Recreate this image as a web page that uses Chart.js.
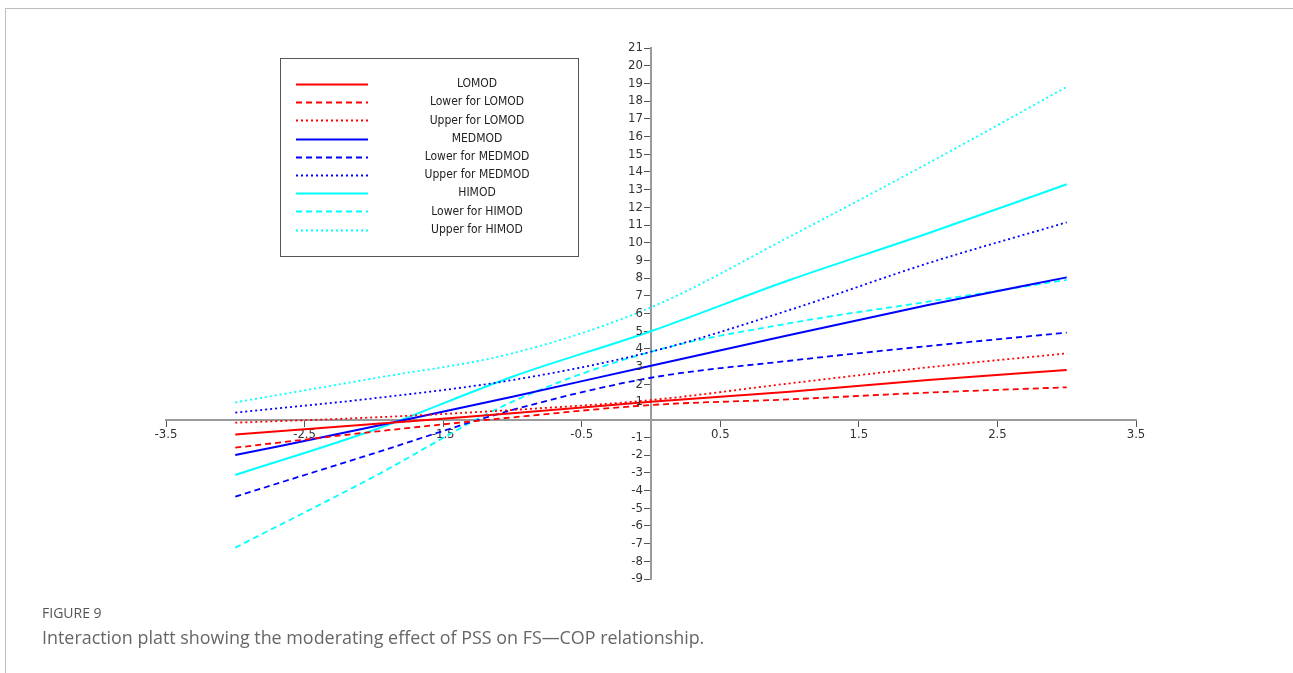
<!DOCTYPE html>
<html>
<head>
<meta charset="utf-8">
<script src="https://cdn.jsdelivr.net/npm/chart.js@4.4.1/dist/chart.umd.min.js"></script>
<style>
  html, body { margin: 0; padding: 0; background: #fff; }
  #wrap { position: relative; width: 1293px; height: 673px; overflow: hidden; }
  #frame { position: absolute; left: 5px; top: 8px; right: -2px; bottom: -2px;
           border-top: 1px solid #bdbdbd; border-left: 1px solid #bdbdbd; }
  #chart { position: absolute; left: 0; top: 0; }
  .cap1 { position: absolute; left: 42px; top: 603px; font: 14px "Open Sans", sans-serif; color: #555; }
  .cap2 { position: absolute; left: 42px; top: 625px; font: 17.9px "Open Sans", sans-serif; color: #666; }
</style>
</head>
<body>
<div id="wrap">
  <div id="frame"></div>
  <canvas id="chart" width="1293" height="673"></canvas>
  <div class="cap1">FIGURE 9</div>
  <div class="cap2">Interaction platt showing the moderating effect of PSS on FS—COP relationship.</div>
</div>
<script>
// x positions of the plotted points
const xValues = [-3, -2, -1, 0, 1, 2, 3];

const loMod      = [-0.83, -0.24, 0.36, 1.02, 1.58, 2.24, 2.81];
const loModLower = [-1.58, -0.68, 0.13, 0.83, 1.15, 1.53, 1.83];
const loModUpper = [-0.17, 0.13, 0.55, 1.11, 2.05, 2.96, 3.75];

const medMod      = [-2.0, -0.39, 1.30, 3.05, 4.78, 6.48, 8.04];
const medModLower = [-4.35, -1.9, 0.55, 2.37, 3.33, 4.16, 4.92];
const medModUpper = [0.40, 1.21, 2.24, 3.84, 6.2, 8.84, 11.15];

const hiMod      = [-3.12, -0.58, 2.43, 5.0, 7.89, 10.53, 13.3];
const hiModLower = [-7.23, -3.22, 1.02, 3.84, 5.45, 6.67, 7.9];
const hiModUpper = [0.98, 2.34, 3.75, 6.35, 10.34, 14.49, 18.8];

const xTicks = [-3.5, -2.5, -1.5, -0.5, 0.5, 1.5, 2.5, 3.5];
const yTicks = [-9, -8, -7, -6, -5, -4, -3, -2, -1, 1, 2, 3, 4, 5, 6, 7, 8, 9, 10,
                11, 12, 13, 14, 15, 16, 17, 18, 19, 20, 21];

const DASH = [6, 4];
const DOT = [2, 3];
const fontFamily = "'Liberation Sans Narrow', 'DejaVu Sans Condensed', 'Liberation Sans', Arial";
const axisFont = { family: fontFamily, size: 13 };

function series(label, values, color, dash) {
  return {
    label,
    data: values.map((v, i) => ({ x: xValues[i], y: v })),
    borderColor: color,
    borderWidth: dash.length ? 1.8 : 2,
    borderDash: dash,
    pointRadius: 0,
    fill: false,
    cubicInterpolationMode: 'monotone'
  };
}

const datasets = [
  series('LOMOD', loMod, '#ff0000', []),
  series('Lower for LOMOD', loModLower, '#ff0000', DASH),
  series('Upper for LOMOD', loModUpper, '#ff0000', DOT),
  series('MEDMOD', medMod, '#0000ff', []),
  series('Lower for MEDMOD', medModLower, '#0000ff', DASH),
  series('Upper for MEDMOD', medModUpper, '#0000ff', DOT),
  series('HIMOD', hiMod, '#00ffff', []),
  series('Lower for HIMOD', hiModLower, '#00ffff', DASH),
  series('Upper for HIMOD', hiModUpper, '#00ffff', DOT)
];

// y labels sit left of the tick marks on the centred axis
const yLabels = {
  id: 'yLabels',
  afterDraw(chart) {
    const ctx = chart.ctx;
    const ys = chart.scales.y;
    const x0 = chart.scales.x.getPixelForValue(0) - 8;
    ctx.save();
    ctx.font = "13px " + fontFamily;
    ctx.fillStyle = '#333';
    ctx.textAlign = 'right';
    ctx.textBaseline = 'middle';
    ys.ticks.forEach(t => ctx.fillText(String(t.value), x0, ys.getPixelForValue(t.value)));
    ctx.restore();
  }
};

// boxed legend drawn inside the plot, like the original figure
const boxLegend = {
  id: 'boxLegend',
  afterDraw(chart) {
    const ctx = chart.ctx;
    const left = 280, top = 58, w = 298, h = 198;
    ctx.save();
    ctx.strokeStyle = '#555';
    ctx.lineWidth = 1;
    ctx.setLineDash([]);
    ctx.strokeRect(left + 0.5, top + 0.5, w, h);
    ctx.font = "12px " + fontFamily;
    ctx.fillStyle = '#222';
    ctx.textAlign = 'center';
    ctx.textBaseline = 'middle';
    chart.data.datasets.forEach((ds, i) => {
      const y = 84 + i * 18.2;
      ctx.strokeStyle = ds.borderColor;
      ctx.lineWidth = 2;
      ctx.setLineDash(ds.borderDash);
      ctx.beginPath();
      ctx.moveTo(296, Math.round(y) + 0.5);
      ctx.lineTo(368, Math.round(y) + 0.5);
      ctx.stroke();
      ctx.fillText(ds.label, 477, y);
    });
    ctx.restore();
  }
};

new Chart(document.getElementById('chart'), {
  type: 'line',
  data: { datasets },
  plugins: [boxLegend, yLabels],
  options: {
    responsive: false,
    animation: false,
    layout: { padding: { left: 166, right: 157, top: 48, bottom: 94 } },
    plugins: { legend: { display: false }, tooltip: { enabled: false } },
    scales: {
      x: {
        type: 'linear',
        min: -3.5,
        max: 3.5,
        position: { y: 0 },
        afterBuildTicks: s => { s.ticks = xTicks.map(v => ({ value: v })); },
        grid: { drawOnChartArea: false, drawTicks: true, tickLength: 6, color: '#555' },
        border: { color: '#9a9a9a', width: 2 },
        ticks: { font: axisFont, color: '#333', padding: 1, maxRotation: 0, autoSkip: false }
      },
      y: {
        type: 'linear',
        min: -9,
        max: 21,
        position: { x: 0 },
        afterBuildTicks: s => { s.ticks = yTicks.map(v => ({ value: v })); },
        grid: { drawOnChartArea: false, drawTicks: true, tickLength: 6, color: '#555' },
        border: { color: '#9a9a9a', width: 2 },
        ticks: { display: false }
      }
    }
  }
});
</script>
</body>
</html>
